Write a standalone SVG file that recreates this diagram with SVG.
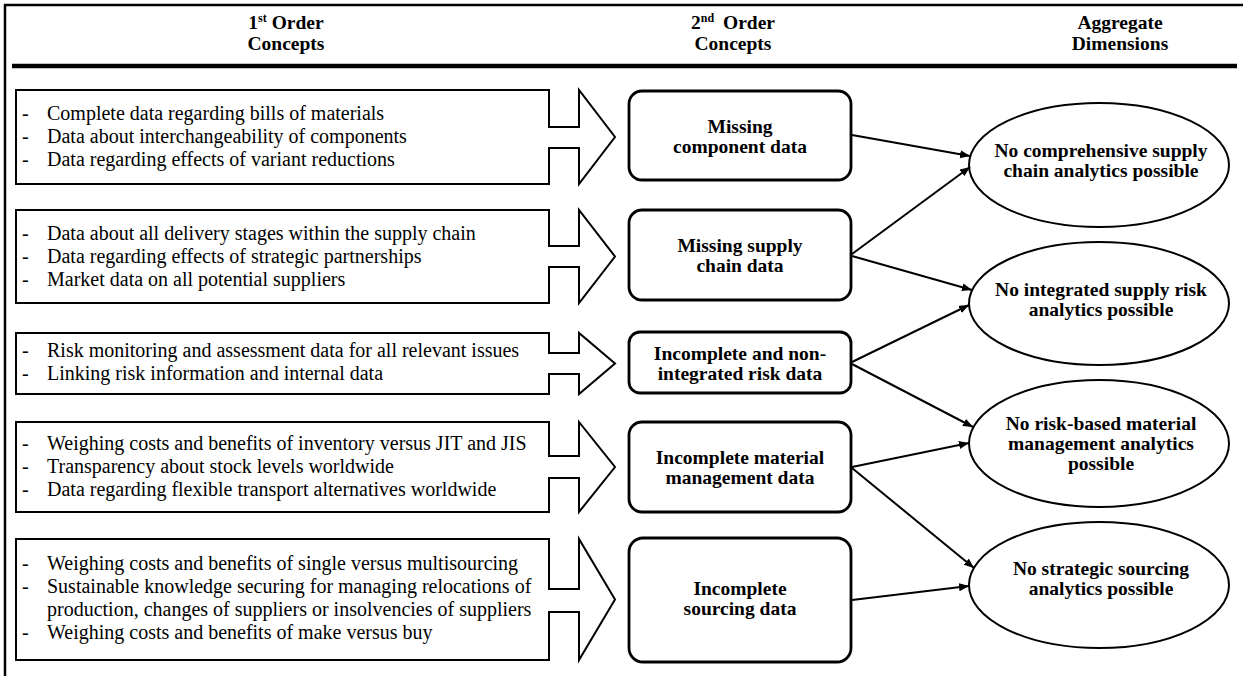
<svg xmlns="http://www.w3.org/2000/svg" width="1243" height="676" viewBox="0 0 1243 676">
<defs>
<style>
.frame{stroke:#000;stroke-width:2.5;fill:none}
.sep{stroke:#000;stroke-width:4.5;fill:none}
.hdr{font-family:"Liberation Serif",serif;font-weight:bold;font-size:19.5px;text-anchor:middle;fill:#000}
.sup{font-size:12px}
.arrowbox{fill:#fff;stroke:#000;stroke-width:2;stroke-linejoin:miter}
.lt{font-family:"Liberation Serif",serif;font-size:20px;fill:#000}
.mbox{fill:#fff;stroke:#000;stroke-width:2.8}
.bt{font-family:"Liberation Serif",serif;font-weight:bold;font-size:19.5px;text-anchor:middle;fill:#000}
.ell{fill:#fff;stroke:#000;stroke-width:2}
.con{stroke:#000;stroke-width:2;fill:none;marker-end:url(#ah)}
</style>
<marker id="ah" markerUnits="userSpaceOnUse" markerWidth="12" markerHeight="10" refX="10" refY="4" orient="auto">
<path d="M0,0 L10,4 L0,8 z" fill="#000"/>
</marker>
</defs>
<rect width="1243" height="676" fill="#fff"/>

<g id="frame">
<line class="frame" x1="4" y1="5" x2="1243" y2="5"/>
<line class="frame" x1="5" y1="4" x2="5" y2="676"/>
<line class="sep" x1="12" y1="66" x2="1237" y2="66"/>
</g>

<g id="headers">
<text class="hdr" x="286" y="29">1<tspan class="sup" dy="-7">st</tspan><tspan dy="7"> Order</tspan></text>
<text class="hdr" x="286" y="50">Concepts</text>
<text class="hdr" x="733" y="29">2<tspan class="sup" dy="-7">nd</tspan><tspan dy="7" dx="4"> Order</tspan></text>
<text class="hdr" x="733" y="50">Concepts</text>
<text class="hdr" x="1120" y="29">Aggregate</text>
<text class="hdr" x="1120" y="50">Dimensions</text>
</g>

<g id="first-order-1">
<polygon class="arrowbox" points="16,90 549,90 549,127 579,127 579,90 615,137 579,184 579,148 549,148 549,184 16,184"/>
<text class="lt" x="22" y="120">-</text><text class="lt" x="47" y="120">Complete data regarding bills of materials</text>
<text class="lt" x="22" y="143">-</text><text class="lt" x="47" y="143">Data about interchangeability of components</text>
<text class="lt" x="22" y="166">-</text><text class="lt" x="47" y="166">Data regarding effects of variant reductions</text>
</g>

<g id="first-order-2">
<polygon class="arrowbox" points="16,210 549,210 549,246 579,246 579,210 615,256.5 579,303 579,267 549,267 549,303 16,303"/>
<text class="lt" x="22" y="240">-</text><text class="lt" x="47" y="240">Data about all delivery stages within the supply chain</text>
<text class="lt" x="22" y="263">-</text><text class="lt" x="47" y="263">Data regarding effects of strategic partnerships</text>
<text class="lt" x="22" y="286">-</text><text class="lt" x="47" y="286">Market data on all potential suppliers</text>
</g>

<g id="first-order-3">
<polygon class="arrowbox" points="16,333 549,333 549,353 579,353 579,333 615,363.5 579,394 579,374 549,374 549,394 16,394"/>
<text class="lt" x="22" y="357">-</text><text class="lt" x="47" y="357">Risk monitoring and assessment data for all relevant issues</text>
<text class="lt" x="22" y="380">-</text><text class="lt" x="47" y="380">Linking risk information and internal data</text>
</g>

<g id="first-order-4">
<polygon class="arrowbox" points="16,422 549,422 549,456 579,456 579,422 615,467 579,512 579,478 549,478 549,512 16,512"/>
<text class="lt" x="22" y="450">-</text><text class="lt" x="47" y="450">Weighing costs and benefits of inventory versus JIT and JIS</text>
<text class="lt" x="22" y="473">-</text><text class="lt" x="47" y="473">Transparency about stock levels worldwide</text>
<text class="lt" x="22" y="496">-</text><text class="lt" x="47" y="496">Data regarding flexible transport alternatives worldwide</text>
</g>

<g id="first-order-5">
<polygon class="arrowbox" points="16,539 549,539 549,589 579,589 579,539 615,599.5 579,660 579,612 549,612 549,660 16,660"/>
<text class="lt" x="22" y="570">-</text><text class="lt" x="47" y="570">Weighing costs and benefits of single versus multisourcing</text>
<text class="lt" x="22" y="593">-</text><text class="lt" x="47" y="593">Sustainable knowledge securing for managing relocations of</text>
<text class="lt" x="47" y="616">production, changes of suppliers or insolvencies of suppliers</text>
<text class="lt" x="22" y="639">-</text><text class="lt" x="47" y="639">Weighing costs and benefits of make versus buy</text>
</g>

<g id="second-order-1">
<rect class="mbox" x="629" y="91" width="222" height="89" rx="13"/>
<text class="bt" x="740" y="133">Missing</text>
<text class="bt" x="740" y="153">component data</text>
</g>
<g id="second-order-2">
<rect class="mbox" x="629" y="210" width="222" height="90" rx="13"/>
<text class="bt" x="740" y="252">Missing supply</text>
<text class="bt" x="740" y="272">chain data</text>
</g>
<g id="second-order-3">
<rect class="mbox" x="629" y="332" width="222" height="61" rx="11"/>
<text class="bt" x="740" y="360">Incomplete and non-</text>
<text class="bt" x="740" y="380">integrated risk data</text>
</g>
<g id="second-order-4">
<rect class="mbox" x="629" y="422" width="222" height="90" rx="13"/>
<text class="bt" x="740" y="464">Incomplete material</text>
<text class="bt" x="740" y="484">management data</text>
</g>
<g id="second-order-5">
<rect class="mbox" x="629" y="538" width="222" height="124" rx="14"/>
<text class="bt" x="740" y="595">Incomplete</text>
<text class="bt" x="740" y="615">sourcing data</text>
</g>

<g id="aggregate-1">
<ellipse class="ell" cx="1099" cy="165" rx="130" ry="62"/>
<text class="bt" x="1101" y="157">No comprehensive supply</text>
<text class="bt" x="1101" y="177">chain analytics possible</text>
</g>
<g id="aggregate-2">
<ellipse class="ell" cx="1099" cy="303.5" rx="130" ry="61.5"/>
<text class="bt" x="1101" y="296">No integrated supply risk</text>
<text class="bt" x="1101" y="316">analytics possible</text>
</g>
<g id="aggregate-3">
<ellipse class="ell" cx="1099" cy="443.5" rx="130" ry="63.5"/>
<text class="bt" x="1101" y="430">No risk-based material</text>
<text class="bt" x="1101" y="450">management analytics</text>
<text class="bt" x="1101" y="470">possible</text>
</g>
<g id="aggregate-4">
<ellipse class="ell" cx="1099" cy="585" rx="130" ry="63"/>
<text class="bt" x="1101" y="575">No strategic sourcing</text>
<text class="bt" x="1101" y="595">analytics possible</text>
</g>

<g id="connectors">
<line class="con" x1="852" y1="135" x2="970" y2="156"/>
<line class="con" x1="852" y1="254" x2="970" y2="167"/>
<line class="con" x1="852" y1="256" x2="972" y2="290"/>
<line class="con" x1="852" y1="362" x2="969" y2="305"/>
<line class="con" x1="852" y1="364" x2="973" y2="427"/>
<line class="con" x1="852" y1="467" x2="969" y2="443"/>
<line class="con" x1="852" y1="468" x2="974" y2="568"/>
<line class="con" x1="852" y1="600" x2="969" y2="586"/>
</g>
</svg>
